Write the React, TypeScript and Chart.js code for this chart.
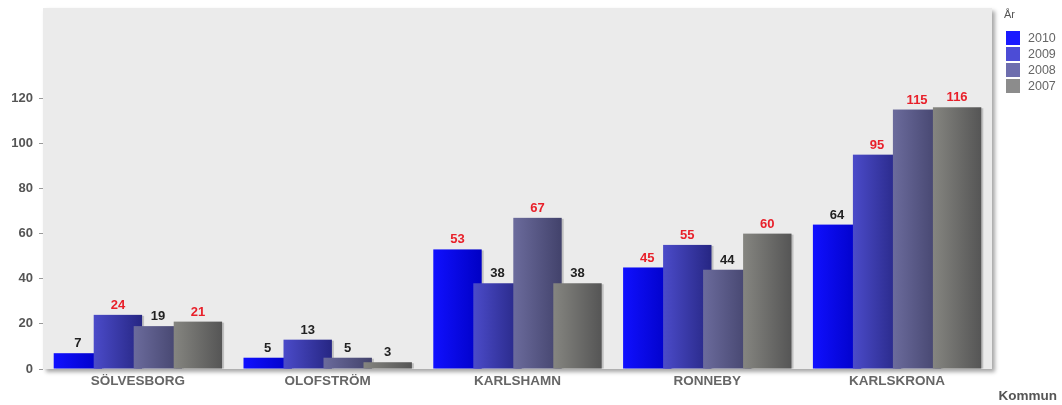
import React, { useEffect, useRef } from "react";
import { Chart, registerables } from "chart.js";

Chart.register(...registerables);

const categories = ["SÖLVESBORG", "OLOFSTRÖM", "KARLSHAMN", "RONNEBY", "KARLSKRONA"];
const years = ["2010", "2009", "2008", "2007"];
const values2010 = [7, 5, 53, 45, 64];
const values2009 = [24, 13, 38, 55, 95];
const values2008 = [19, 5, 67, 44, 115];
const values2007 = [21, 3, 38, 60, 116];
// true = label shown in red
const red2010 = [false, false, true, true, false];
const red2009 = [true, false, false, true, true];
const red2008 = [false, false, true, false, true];
const red2007 = [true, false, false, true, true];
const yTicksShown = [0, 20, 40, 60, 80, 100, 120];
const axisTitle = "Kommun";
const legendTitle = "År";

const seriesValues = [values2010, values2009, values2008, values2007];
const seriesRed = [red2010, red2009, red2008, red2007];
const lightColors = ["#1010ff", "#4b4bc9", "#6b6b9c", "#858580"];
const darkColors = ["#0000c4", "#262683", "#42426b", "#555555"];
const legendColors = ["#1a1aff", "#4c4cd6", "#6e6eae", "#8c8c8c"];

const FONT = "'Liberation Sans', Arial, sans-serif";

export default function App() {
  const ref = useRef<HTMLCanvasElement | null>(null);

  useEffect(() => {
    const canvas = ref.current;
    if (!canvas) return;

    const plotBg = {
      id: "plotBg",
      beforeDraw(chart: any) {
        const { ctx, chartArea: a } = chart;
        ctx.save();
        ctx.shadowColor = "rgba(0,0,0,0.35)";
        ctx.shadowBlur = 4;
        ctx.shadowOffsetX = 3;
        ctx.shadowOffsetY = 3;
        ctx.fillStyle = "#ebebeb";
        ctx.fillRect(a.left, a.top, a.right - a.left, a.bottom - a.top);
        ctx.restore();
      },
    };

    const barsAndLabels = {
      id: "barsAndLabels",
      beforeDatasetDraw() {
        return false;
      },
      afterDatasetsDraw(chart: any) {
        const ctx = chart.ctx;
        ctx.save();
        chart.data.datasets.forEach((_ds: any, di: number) => {
          const meta = chart.getDatasetMeta(di);
          meta.data.forEach((el: any) => {
            const { x, y, base, width } = el.getProps(["x", "y", "base", "width"], true);
            const left = x - width / 2;
            const h = base - y;
            ctx.fillStyle = "rgba(0,0,0,0.18)";
            ctx.fillRect(left + 2, y + 1, width, h - 1);
            const g = ctx.createLinearGradient(left, 0, left + width, 0);
            g.addColorStop(0, lightColors[di]);
            g.addColorStop(1, darkColors[di]);
            ctx.fillStyle = g;
            ctx.fillRect(left, y, width, h);
          });
        });
        ctx.font = `bold 13px ${FONT}`;
        ctx.textAlign = "center";
        ctx.textBaseline = "bottom";
        chart.data.datasets.forEach((ds: any, di: number) => {
          const meta = chart.getDatasetMeta(di);
          meta.data.forEach((el: any, i: number) => {
            const { x, y } = el.getProps(["x", "y"], true);
            ctx.fillStyle = seriesRed[di][i] ? "#e8202a" : "#222222";
            ctx.fillText(String(ds.data[i]), x, y - 3);
          });
        });
        ctx.restore();
      },
      afterDraw(chart: any) {
        const ctx = chart.ctx;
        ctx.save();
        // Axis title
        ctx.font = `bold 13.5px ${FONT}`;
        ctx.fillStyle = "#555555";
        ctx.textAlign = "right";
        ctx.textBaseline = "middle";
        ctx.fillText(axisTitle, 1057, 396);
        // Legend
        ctx.textAlign = "left";
        ctx.font = `11px ${FONT}`;
        ctx.fillStyle = "#555555";
        ctx.fillText(legendTitle, 1004, 15);
        ctx.font = `12.5px ${FONT}`;
        years.forEach((yr, i) => {
          const top = 31 + i * 16;
          ctx.fillStyle = legendColors[i];
          ctx.fillRect(1006, top, 14, 14);
          ctx.fillStyle = "#666666";
          ctx.fillText(yr, 1028, top + 7.5);
        });
        ctx.restore();
      },
    };

    const chart = new Chart(canvas, {
      type: "bar",
      data: {
        labels: categories,
        datasets: years.map((yr, i) => ({
          label: yr,
          data: seriesValues[i],
          backgroundColor: legendColors[i],
          categoryPercentage: 0.843,
          barPercentage: 1.21,
        })),
      },
      options: {
        responsive: false,
        animation: false,
        events: [],
        layout: { padding: { top: 8, right: 70, left: 0, bottom: 0 } },
        plugins: {
          legend: { display: false },
          tooltip: { enabled: false },
        },
        scales: {
          x: {
            grid: { display: false, drawTicks: false },
            border: { display: false },
            ticks: {
              font: { family: FONT, size: 13.5, weight: "bold" },
              color: "#666666",
              padding: 4,
              maxRotation: 0,
              autoSkip: false,
            },
            afterFit: (s: any) => {
              s.height = 36;
              s.paddingLeft = 0;
              s.paddingRight = 0;
            },
          },
          y: {
            min: 0,
            max: 160,
            ticks: {
              stepSize: 20,
              font: { family: FONT, size: 13, weight: "bold" },
              color: "#555555",
              padding: 6,
            },
            grid: { drawOnChartArea: false, tickLength: 4, color: "#999999" },
            border: { display: false },
            afterBuildTicks: (s: any) => {
              s.ticks = s.ticks.filter((t: any) => yTicksShown.includes(t.value));
            },
            afterFit: (s: any) => {
              s.width = 43;
              s.paddingTop = 0;
              s.paddingBottom = 0;
            },
          },
        },
      },
      plugins: [plotBg, barsAndLabels],
    });

    return () => chart.destroy();
  }, []);

  return (
    <div style={{ position: "fixed", left: 0, top: 0, width: 1062, height: 405, background: "#ffffff" }}>
      <canvas ref={ref} width={1062} height={405} style={{ display: "block" }} />
    </div>
  );
}
